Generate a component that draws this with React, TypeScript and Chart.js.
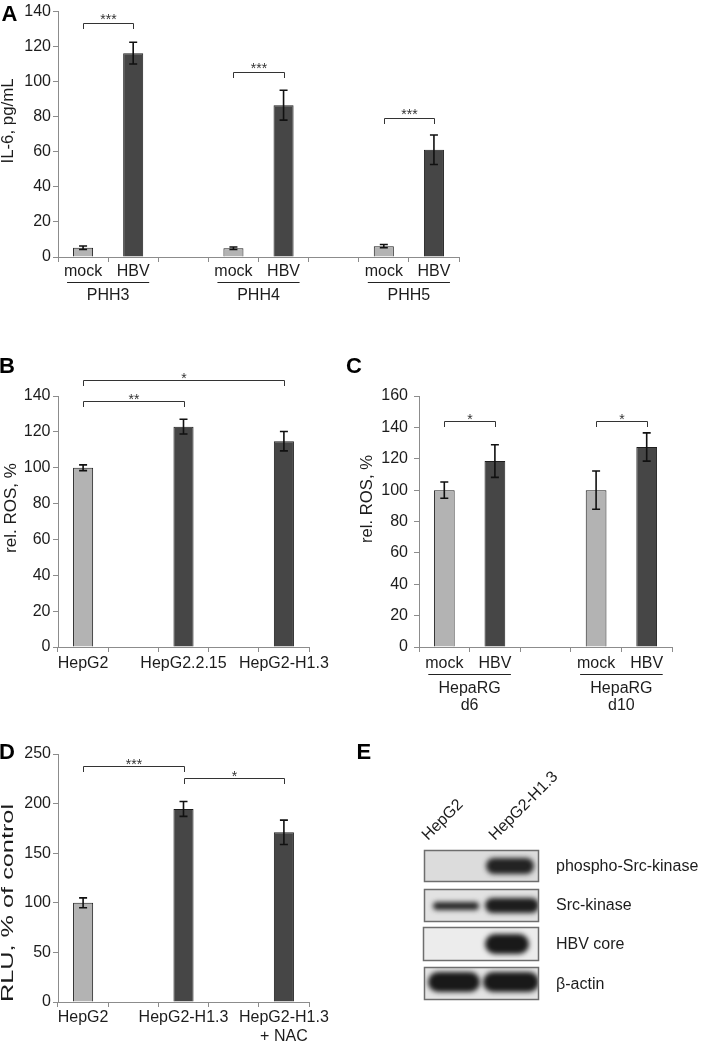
import React, { useEffect, useRef } from "react";
import { Chart, registerables } from "chart.js";
Chart.register(...registerables);

const FONT = "'Liberation Sans', Arial, Helvetica, sans-serif";
const LIGHT = "#b3b3b3";
const DARK = "#464646";
const AXIS = "#8c8c8c";
const INK = "#1c1c1c";

// ---------- Panel A: IL-6 ----------
const aLabels = ["mock", "HBV", "", "mock", "HBV", "", "mock", "HBV"];
const aValues = [5.3, 116.3, null, 5.0, 86.6, null, 6.2, 61.2];
const aErrors = [1.0, 6.2, null, 0.7, 8.5, null, 0.9, 8.4];
const aGroups = ["PHH3", "PHH4", "PHH5"];
const aSigLevels = [133.3, 105.3, 79.1];
const aSigLabels = ["***", "***", "***"];

// ---------- Panel B: rel. ROS ----------
const bLabels = ["HepG2", "", "HepG2.2.15", "", "HepG2-H1.3"];
const bValues = [100, null, 122.9, null, 114.8];
const bErrors = [1.6, null, 4.1, null, 5.4];

// ---------- Panel C: rel. ROS HepaRG ----------
const cLabels = ["mock", "HBV", "", "mock", "HBV"];
const cValues = [100, 118.5, null, 100, 127.5];
const cErrors = [5.2, 10.4, null, 12.2, 9.0];
const cGroups = [["HepaRG", "d6"], ["HepaRG", "d10"]];

// ---------- Panel D: RLU ----------
const dLabels: (string | string[])[] = ["HepG2", "", "HepG2-H1.3", "", ["HepG2-H1.3", "+ NAC"]];
const dValues = [100, null, 194.6, null, 171.0];
const dErrors = [5.0, null, 7.5, null, 12.3];

// ---------- Panel E: western blot ----------
const eLanes = ["HepG2", "HepG2-H1.3"];
const eRows = ["phospho-Src-kinase", "Src-kinase", "HBV core", "β-actin"];

type Bracket = { from: number; to: number; at: number; label: string };
type Group = { from: number; to: number; lines: string[] };
interface Spec {
  left: number; top: number; width: number; height: number;
  area: { l: number; r: number; t: number; b: number };
  labels: (string | string[])[];
  values: (number | null)[];
  errors: (number | null)[];
  yMax: number; yStep: number; tickPad: number; xPad: number;
  title: string; titleX: number; titleY: number; titleLen: number;
  letter: string; letterX: number; letterY: number;
  brackets: Bracket[]; starOffset: number;
  groups?: Group[]; groupLineY?: number; groupBaselines?: number[];
  catPct: number;
}

const colorFor = (l: string | string[]) => {
  const s = Array.isArray(l) ? l[0] : l;
  return s === "mock" || s === "HepG2" ? LIGHT : DARK;
};

const specA: Spec = {
  left: 0, top: 0, width: 480, height: 310,
  area: { l: 58, r: 459, t: 7, b: 257 },
  labels: aLabels, values: aValues, errors: aErrors,
  yMax: 140, yStep: 20, tickPad: 2, xPad: 0,
  title: "IL-6, pg/mL", titleX: 9, titleY: 121, titleLen: 85,
  letter: "A", letterX: 1.5, letterY: 21,
  brackets: aSigLabels.map((s, k) => ({ from: 3 * k, to: 3 * k + 1, at: aSigLevels[k], label: s })),
  starOffset: 0.5,
  groups: aGroups.map((g, k) => ({ from: 3 * k, to: 3 * k + 1, lines: [g] })),
  groupLineY: 282.5, groupBaselines: [300],
  catPct: 0.4,
};

const specB: Spec = {
  left: 0, top: 340, width: 340, height: 340,
  area: { l: 58, r: 309, t: 56, b: 307 },
  labels: bLabels, values: bValues, errors: bErrors,
  yMax: 140, yStep: 20, tickPad: 2.5, xPad: 2,
  title: "rel. ROS, %", titleX: 11.5, titleY: 168, titleLen: 90,
  letter: "B", letterX: -1, letterY: 33,
  brackets: [
    { from: 0, to: 2, at: 137.4, label: "**" },
    { from: 0, to: 4, at: 148.8, label: "*" },
  ],
  starOffset: 2.5,
  catPct: 0.4,
};

const specC: Spec = {
  left: 340, top: 340, width: 367, height: 380,
  area: { l: 79, r: 332, t: 56, b: 307 },
  labels: cLabels, values: cValues, errors: cErrors,
  yMax: 160, yStep: 20, tickPad: 6, xPad: 2,
  title: "rel. ROS, %", titleX: 27.5, titleY: 159, titleLen: 88,
  letter: "C", letterX: 6, letterY: 33,
  brackets: [
    { from: 0, to: 1, at: 144, label: "*" },
    { from: 3, to: 4, at: 144, label: "*" },
  ],
  starOffset: 2.5,
  groups: cGroups.map((g, k) => ({ from: 3 * k, to: 3 * k + 1, lines: g })),
  groupLineY: 334.5, groupBaselines: [353, 370],
  catPct: 0.41,
};

const specD: Spec = {
  left: 0, top: 720, width: 340, height: 325,
  area: { l: 58, r: 309, t: 34, b: 282 },
  labels: dLabels, values: dValues, errors: dErrors,
  yMax: 250, yStep: 50, tickPad: 2, xPad: 1,
  title: "RLU, % of control", titleX: 9, titleY: 183, titleLen: 198,
  letter: "D", letterX: -1, letterY: 39,
  brackets: [
    { from: 0, to: 2, at: 238.3, label: "***" },
    { from: 2, to: 4, at: 225.9, label: "*" },
  ],
  starOffset: 2.5,
  catPct: 0.4,
};

function BarPanel({ spec }: { spec: Spec }) {
  const ref = useRef<HTMLCanvasElement>(null);
  useEffect(() => {
    const s = spec;
    const overlay = {
      id: "overlay",
      afterDraw(chart: any) {
        const ctx: CanvasRenderingContext2D = chart.ctx;
        const xs = chart.scales.x;
        const ys = chart.scales.y;
        const meta = chart.getDatasetMeta(0);
        const cx = (i: number) => meta.data[i].x;
        ctx.save();
        // error bars
        ctx.strokeStyle = "#111";
        ctx.lineWidth = 1.6;
        s.values.forEach((v, i) => {
          const e = s.errors[i];
          if (v == null || e == null) return;
          const x = cx(i);
          const y1 = ys.getPixelForValue(v + e);
          const y2 = ys.getPixelForValue(v - e);
          ctx.beginPath();
          ctx.moveTo(x, y1); ctx.lineTo(x, y2);
          ctx.moveTo(x - 4, y1); ctx.lineTo(x + 4, y1);
          ctx.moveTo(x - 4, y2); ctx.lineTo(x + 4, y2);
          ctx.stroke();
        });
        // significance brackets
        ctx.strokeStyle = "#333";
        ctx.lineWidth = 1;
        ctx.fillStyle = "#333";
        ctx.font = `14px ${FONT}`;
        ctx.textAlign = "center";
        ctx.textBaseline = "alphabetic";
        s.brackets.forEach((b) => {
          const x1 = Math.round(cx(b.from)) + 0.5;
          const x2 = Math.round(cx(b.to)) + 0.5;
          const y = Math.round(ys.getPixelForValue(b.at)) + 0.5;
          ctx.beginPath();
          ctx.moveTo(x1, y + 5.5); ctx.lineTo(x1, y); ctx.lineTo(x2, y); ctx.lineTo(x2, y + 5.5);
          ctx.stroke();
          ctx.fillText(b.label, (x1 + x2) / 2, y + s.starOffset);
        });
        // group underlines and labels
        if (s.groups) {
          ctx.fillStyle = INK;
          ctx.strokeStyle = "#222";
          ctx.lineWidth = 1.2;
          ctx.font = `16px ${FONT}`;
          s.groups.forEach((g) => {
            const x1 = cx(g.from) - 16;
            const x2 = cx(g.to) + 16;
            ctx.beginPath();
            ctx.moveTo(x1, s.groupLineY!); ctx.lineTo(x2, s.groupLineY!);
            ctx.stroke();
            g.lines.forEach((t, k) => ctx.fillText(t, (x1 + x2) / 2, s.groupBaselines![k]));
          });
        }
        // y title (stretched to reference length)
        ctx.fillStyle = INK;
        ctx.font = `16px ${FONT}`;
        const w = ctx.measureText(s.title).width;
        ctx.save();
        ctx.translate(s.titleX, s.titleY);
        ctx.rotate(-Math.PI / 2);
        ctx.scale(s.titleLen / w, 1);
        ctx.textAlign = "center";
        ctx.textBaseline = "middle";
        ctx.fillText(s.title, 0, 0);
        ctx.restore();
        // panel letter
        ctx.fillStyle = "#000";
        ctx.font = `bold 22px ${FONT}`;
        ctx.textAlign = "left";
        ctx.textBaseline = "alphabetic";
        ctx.fillText(s.letter, s.letterX, s.letterY);
        ctx.restore();
      },
    };
    const chart = new Chart(ref.current!, {
      type: "bar",
      data: {
        labels: s.labels as any,
        datasets: [{
          data: s.values as any,
          backgroundColor: s.labels.map(colorFor),
          borderColor: "#1e1e1e",
          borderWidth: 1,
          barPercentage: 1,
          categoryPercentage: s.catPct,
        }],
      },
      options: {
        responsive: false,
        animation: false,
        devicePixelRatio: 1,
        layout: {
          padding: { top: s.area.t, right: s.width - s.area.r, left: 0, bottom: 0 },
          autoPadding: false,
        } as any,
        plugins: { legend: { display: false }, tooltip: { enabled: false } },
        scales: {
          x: {
            type: "category",
            offset: true,
            grid: { offset: true, drawOnChartArea: false, drawTicks: true, tickLength: 5, color: AXIS, tickColor: AXIS },
            border: { display: true, color: AXIS, width: 1 },
            ticks: { autoSkip: false, maxRotation: 0, minRotation: 0, padding: s.xPad, color: INK, font: { family: FONT, size: 16 } },
            afterFit: (sc: any) => { sc.height = s.height - s.area.b; },
          },
          y: {
            min: 0,
            max: s.yMax,
            grid: { drawOnChartArea: false, drawTicks: true, tickLength: 5, color: AXIS, tickColor: AXIS },
            border: { display: true, color: AXIS, width: 1 },
            ticks: { stepSize: s.yStep, padding: s.tickPad, color: INK, font: { family: FONT, size: 16 } },
            afterFit: (sc: any) => { sc.width = s.area.l; },
          },
        },
      },
      plugins: [overlay],
    });
    return () => chart.destroy();
  }, [spec]);
  return (
    <canvas
      ref={ref}
      width={spec.width}
      height={spec.height}
      style={{ position: "absolute", left: spec.left, top: spec.top, width: spec.width, height: spec.height }}
    />
  );
}

function BlotPanel() {
  const ref = useRef<HTMLCanvasElement>(null);
  useEffect(() => {
    const c = ref.current!;
    const ctx = c.getContext("2d")!;
    const ox = 340, oy = 720;
    ctx.clearRect(0, 0, c.width, c.height);
    ctx.translate(-ox, -oy);
    // boxes [x, y, w, h, bg]
    const boxes: [number, number, number, number, string][] = [
      [424, 850, 115, 32, "#dcdcdc"],
      [424, 889, 115, 33, "#e2e2e2"],
      [423, 927, 116, 34, "#ececec"],
      [424, 967, 115, 33, "#e4e4e4"],
    ];
    // bands per row: [cx, cy, w, h, alpha]
    const bands: [number, number, number, number, number][][] = [
      [[510, 866, 48, 16, 0.92]],
      [[456, 906, 46, 8, 0.9], [512, 905.5, 54, 15, 0.95]],
      [[507, 944, 44, 20, 0.97]],
      [[454, 982, 52, 20, 0.97], [511, 982, 56, 20, 0.97]],
    ];
    boxes.forEach(([x, y, w, h, bg], r) => {
      ctx.save();
      ctx.fillStyle = bg;
      ctx.fillRect(x, y, w, h);
      ctx.beginPath();
      ctx.rect(x, y, w, h);
      ctx.clip();
      ctx.filter = "blur(2.5px)";
      bands[r].forEach(([bx, by, bw, bh, a]) => {
        ctx.fillStyle = `rgba(18,18,18,${a})`;
        ctx.beginPath();
        (ctx as any).roundRect(bx - bw / 2, by - bh / 2, bw, bh, bh / 2);
        ctx.fill();
      });
      ctx.restore();
      ctx.strokeStyle = "#6e6e6e";
      ctx.lineWidth = 1.5;
      ctx.strokeRect(x + 0.5, y + 0.5, w - 1, h - 1);
    });
    // row labels
    ctx.fillStyle = INK;
    ctx.font = `16px ${FONT}`;
    ctx.textAlign = "left";
    ctx.textBaseline = "middle";
    const rowY = [866.7, 905.7, 945, 985];
    eRows.forEach((t, i) => ctx.fillText(t, 556, rowY[i]));
    // lane labels rotated
    const laneStart: [number, number][] = [[428, 841], [495, 841]];
    eLanes.forEach((t, i) => {
      ctx.save();
      ctx.translate(laneStart[i][0], laneStart[i][1]);
      ctx.rotate(-Math.PI / 4);
      ctx.textBaseline = "alphabetic";
      ctx.fillText(t, 0, 0);
      ctx.restore();
    });
    // panel letter
    ctx.fillStyle = "#000";
    ctx.font = `bold 22px ${FONT}`;
    ctx.textBaseline = "alphabetic";
    ctx.fillText("E", 356.5, 759);
  }, []);
  return (
    <canvas
      ref={ref}
      width={367}
      height={325}
      style={{ position: "absolute", left: 340, top: 720, width: 367, height: 325 }}
    />
  );
}

export default function App() {
  return (
    <div style={{ position: "absolute", left: 0, top: 0, width: 707, height: 1045, background: "#fff", overflow: "hidden" }}>
      <BarPanel spec={specA} />
      <BarPanel spec={specB} />
      <BarPanel spec={specC} />
      <BarPanel spec={specD} />
      <BlotPanel />
    </div>
  );
}
